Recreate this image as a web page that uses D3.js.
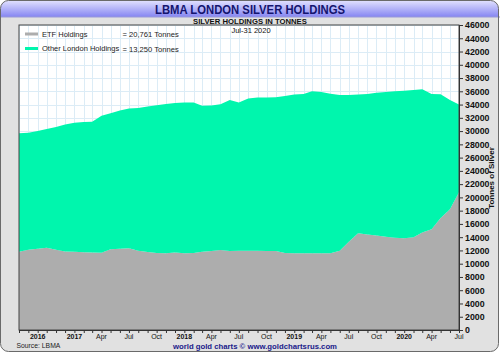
<!DOCTYPE html>
<html><head><meta charset="utf-8">
<script src="https://cdn.jsdelivr.net/npm/d3@7/dist/d3.min.js"></script>
<style>body{margin:0;background:#fff}svg{display:block;font-family:"Liberation Sans",Arial,sans-serif}</style>
</head><body><svg id="c" width="500" height="353"></svg>
<script>
const months = d3.range(49).map(i => d3.timeMonth.offset(new Date(2016, 6, 1), i));
const etfHoldings = [11810,12100,12250,12410,12100,11850,11800,11720,11680,11660,12170,12250,12320,11950,11750,11620,11560,11700,11560,11600,11800,11900,12060,11910,11950,11960,11950,11930,11900,11600,11560,11560,11560,11560,11560,11960,13300,14580,14400,14250,14050,13900,13830,13980,14700,15200,16900,18200,20761];
const otherHoldings = [17850,17660,17750,17900,18500,19150,19450,19650,19720,20640,20510,20850,21080,21550,21950,22280,22520,22550,22770,22730,22020,21950,21970,22790,22380,22940,23100,23150,23220,23690,23940,24030,24430,24340,24090,23490,22140,20920,21200,21550,21850,22100,22270,22220,21600,20400,18650,16500,13250];
const seriesNames = ["ETF Holdings","Other London Holdings"];
const seriesColors = ["#adadad","#00f6ad"];
const legendValues = ["= 20,761 Tonnes","= 13,250 Tonnes"];
const yTicks = d3.range(0, 46001, 2000);
const xTickLabels = [
  {d:new Date(2016,8,1),t:"2016",y:true},{d:new Date(2017,0,1),t:"2017",y:true},{d:new Date(2017,3,1),t:"Apr"},{d:new Date(2017,6,1),t:"Jul"},{d:new Date(2017,9,1),t:"Oct"},
  {d:new Date(2018,0,1),t:"2018",y:true},{d:new Date(2018,3,1),t:"Apr"},{d:new Date(2018,6,1),t:"Jul"},{d:new Date(2018,9,1),t:"Oct"},
  {d:new Date(2019,0,1),t:"2019",y:true},{d:new Date(2019,3,1),t:"Apr"},{d:new Date(2019,6,1),t:"Jul"},{d:new Date(2019,9,1),t:"Oct"},
  {d:new Date(2020,0,1),t:"2020",y:true},{d:new Date(2020,3,1),t:"Apr"},{d:new Date(2020,6,1),t:"Jul"}];

const svg = d3.select("#c");
const L=19,R=459,T=25,B=330;
const x = d3.scaleTime().domain([months[0], months[48]]).range([L,R]);
const y = d3.scaleLinear().domain([0,46000]).range([B,T]);

const defs = svg.append("defs");
const g1 = defs.append("linearGradient").attr("id","tb").attr("x1",0).attr("y1",0).attr("x2",0).attr("y2",1);
g1.append("stop").attr("offset","0%").attr("stop-color","#e4e4ff");
g1.append("stop").attr("offset","100%").attr("stop-color","#8585f2");
defs.append("clipPath").attr("id","outer").append("rect").attr("x",0.5).attr("y",0.5).attr("width",498).attr("height",351).attr("rx",8);

svg.append("rect").attr("x",0.5).attr("y",0.5).attr("width",498).attr("height",351).attr("rx",8).attr("fill","#e1e1e1");
svg.append("rect").attr("x",0).attr("y",0).attr("width",500).attr("height",17).attr("fill","url(#tb)").attr("clip-path","url(#outer)");
svg.append("line").attr("x1",0).attr("x2",500).attr("y1",17).attr("y2",17).attr("stroke","#9a9ad8").attr("stroke-width",1);
svg.append("rect").attr("x",0.5).attr("y",0.5).attr("width",498).attr("height",351).attr("rx",8).attr("fill","none").attr("stroke","#6a6a6a");

svg.append("rect").attr("x",L).attr("y",T).attr("width",R-L).attr("height",B-T).attr("fill","#ffffff");
const grid = svg.append("g").attr("stroke","#dcecf6").attr("stroke-width",1);
months.forEach(m => grid.append("line").attr("x1",Math.round(x(m))+0.5).attr("x2",Math.round(x(m))+0.5).attr("y1",T).attr("y2",B));
yTicks.forEach(v => grid.append("line").attr("x1",L).attr("x2",R).attr("y1",Math.round(y(v))+0.5).attr("y2",Math.round(y(v))+0.5));

const data = months.map((m,i)=>({date:m, etf:etfHoldings[i], other:otherHoldings[i]}));
const stack = d3.stack().keys(["etf","other"])(data);
const area = d3.area().x(d=>x(d.data.date)).y0(d=>y(d[0])).y1(d=>y(d[1]));
svg.append("g").selectAll("path").data(stack).join("path").attr("d",area).attr("fill",(d,i)=>seriesColors[i]);

svg.append("rect").attr("x",L).attr("y",T).attr("width",R-L).attr("height",B-T).attr("fill","none").attr("stroke","#444").attr("stroke-width",1);

const ya = svg.append("g").attr("transform",`translate(${R},0)`)
  .call(d3.axisRight(y).tickValues(yTicks).tickSize(4).tickPadding(2).tickFormat(d3.format("d")));
ya.select(".domain").attr("stroke","#333");
ya.selectAll(".tick line").attr("stroke","#333");
ya.selectAll("text").attr("font-family","Liberation Sans, Arial, sans-serif").attr("font-size",8.8).attr("font-weight","bold").attr("fill","#111");

const xa = svg.append("g").attr("transform",`translate(0,${B})`)
  .call(d3.axisBottom(x).tickValues(months).tickSize(3).tickFormat(""));
xa.select(".domain").attr("stroke","#333");
xa.selectAll(".tick line").attr("stroke","#333");
svg.append("g").selectAll("text").data(xTickLabels).join("text")
  .attr("x",d=>x(d.d)).attr("y",339).attr("text-anchor","middle")
  .attr("font-size",7).attr("font-weight",d=>d.y?"bold":"normal").attr("fill","#111").text(d=>d.t);

svg.append("text").attr("x",250).attr("y",13.5).attr("text-anchor","middle").attr("font-size",13).attr("font-weight","bold")
  .attr("fill","#14146e").attr("textLength",190).attr("lengthAdjust","spacingAndGlyphs").text("LBMA LONDON SILVER HOLDINGS");
svg.append("text").attr("x",250).attr("y",24).attr("text-anchor","middle").attr("font-size",7.7).attr("font-weight","bold").attr("fill","#111").text("SILVER HOLDINGS IN TONNES");
svg.append("text").attr("x",251).attr("y",33).attr("text-anchor","middle").attr("font-size",7.5).attr("fill","#111").text("Jul-31  2020");

seriesNames.forEach((n,i)=>{
  const yy = 34 + i*14.5;
  svg.append("line").attr("x1",25).attr("x2",38).attr("y1",yy).attr("y2",yy).attr("stroke",seriesColors[i]).attr("stroke-width",3);
  svg.append("text").attr("x",42).attr("y",yy+2.8).attr("font-size",7.5).attr("fill","#222").text(n);
  svg.append("text").attr("x",122.5).attr("y",yy+3).attr("font-size",7.6).attr("fill","#222").text(legendValues[i]);
});

svg.append("text").attr("transform","translate(494,178) rotate(-90)").attr("text-anchor","middle").attr("font-size",8).attr("font-weight","bold").attr("fill","#111").text("Tonnes of Silver");

svg.append("text").attr("x",16.5).attr("y",348).attr("font-size",6.8).attr("fill","#222").text("Source: LBMA");
svg.append("text").attr("x",255).attr("y",348.5).attr("text-anchor","middle").attr("font-size",7.6).attr("font-weight","bold").attr("fill","#1a1a8a")
  .attr("textLength",164).attr("lengthAdjust","spacingAndGlyphs").text("world gold charts © www.goldchartsrus.com");
</script></body></html>
